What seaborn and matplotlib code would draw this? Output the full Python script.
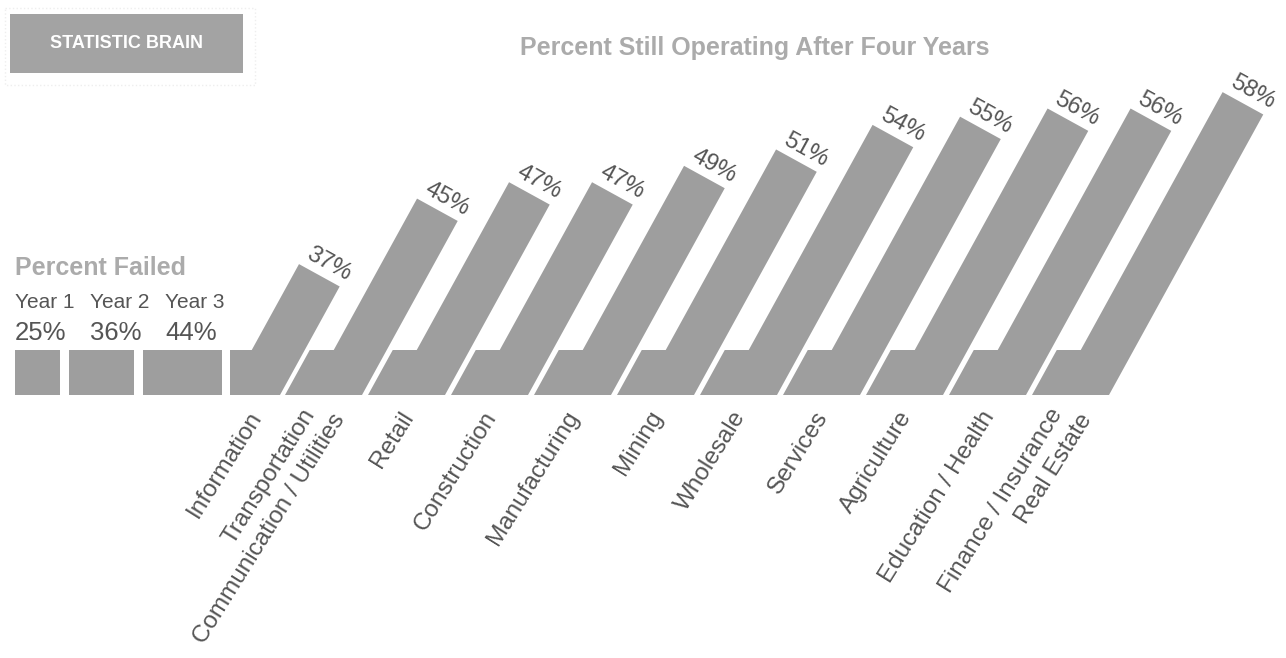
import numpy as np
import matplotlib
matplotlib.use("Agg")
import matplotlib.pyplot as plt
from matplotlib.patches import Polygon, Rectangle
import seaborn as sns

# ---------------- data ----------------
brand = "STATISTIC BRAIN"
title_main = "Percent Still Operating After Four Years"
title_failed = "Percent Failed"
year_labels = ["Year 1", "Year 2", "Year 3"]
year_failed = [25, 36, 44]
industries = ["Information", "Transportation\nCommunication / Utilities", "Retail",
              "Construction", "Manufacturing", "Mining", "Wholesale", "Services",
              "Agriculture", "Education / Health", "Finance / Insurance\nReal Estate"]
still_operating = [37, 45, 47, 47, 49, 51, 54, 55, 56, 56, 58]

# ---------------- style ----------------
sns.set_theme(style="white")
plt.rcParams['font.family'] = ['Liberation Sans', 'DejaVu Sans']

GRAY = '#9e9e9e'
LIGHT = '#ababab'
DARK = '#555555'

W, H = 1286, 658
fig = plt.figure(figsize=(W / 100, H / 100), dpi=100)
ax = fig.add_axes([0, 0, 1, 1])
ax.set_xlim(0, W)
ax.set_ylim(H, 0)
ax.axis('off')

# layout (pixel-like units of the axes)
BASE_Y = 395.0       # baseline
BAND = 45.0          # height of the base band
SL = 0.55            # horizontal run per unit rise of slanted bars
HW = 53.0            # horizontal width of slanted bars
V0 = 23.75           # value at baseline of the height scale
PX_PER_PCT = 8.19    # height scale

d = np.array([SL, -1.0]); d /= np.linalg.norm(d)   # up along the bar
n = np.array([1.0, SL]); n /= np.linalg.norm(n)    # across the bar top
PW = HW / np.sqrt(1 + SL ** 2)                       # perpendicular width

# ---- brand box ----
ax.add_patch(Rectangle((5, 8), 250, 77, fill=False, ec='#eeeeee', lw=1, ls=':'))
ax.add_patch(Rectangle((10, 14), 233, 59, color='#a3a3a3', lw=0))
ax.text(126.5, 44, brand, color='white', fontsize=13, fontweight='bold',
        ha='center', va='center', family=['Liberation Sans Narrow', 'Liberation Sans'])

# ---- titles ----
ax.text(755, 48, title_main, color=LIGHT, fontsize=18, fontweight='bold',
        ha='center', va='center')
ax.text(15, 268, title_failed, color=LIGHT, fontsize=18, fontweight='bold',
        ha='left', va='center')

# ---- year boxes (widths proportional to value) ----
year_w = np.array(year_failed) * 1.8
gap = 9.0
lefts = 15 + np.concatenate([[0], np.cumsum(year_w[:-1] + gap)])
ax.bar(lefts, BAND, width=year_w, bottom=BASE_Y - BAND, align='edge',
       color=GRAY, linewidth=0)
for k, (lab, val) in enumerate(zip(year_labels, year_failed)):
    x = 15 + k * 75
    ax.text(x, 302, lab, color=DARK, fontsize=15, ha='left', va='center')
    ax.text(x, 333, f"{val}%", color=DARK, fontsize=18.5, ha='left', va='center')

# ---- industry bent bars ----
x_start = lefts[-1] + year_w[-1] + 8
step = 83.0
for i, (name, val) in enumerate(zip(industries, still_operating)):
    if i == 0:
        L, R = x_start, 280.0
    else:
        L = 285.0 + (i - 1) * step
        R = L + 77.0
    h = (val - V0) * PX_PER_PCT
    B = (L, BASE_Y)
    BR = (R, BASE_Y)
    TR = np.array([R + SL * h, BASE_Y - h])
    TL = TR - PW * n
    K = (R - HW + SL * BAND, BASE_Y - BAND)
    A = (L, BASE_Y - BAND) if i == 0 else (L + SL * BAND, BASE_Y - BAND)
    ax.add_patch(Polygon([B, BR, tuple(TR), tuple(TL), K, A], closed=True,
                         color=GRAY, lw=0))
    # value label on the top edge
    M = (TL + TR) / 2 + 14 * d + 3 * n
    ang = -np.degrees(np.arctan2(n[1], n[0]))
    ax.text(M[0], M[1], f"{val}%", color=DARK, fontsize=17, rotation=ang,
            rotation_mode='anchor', ha='center', va='center')
    # category label(s)
    cx = (L + R) / 2 + 2
    cy = 413
    rot = 58
    u = np.array([np.cos(np.radians(rot)), -np.sin(np.radians(rot))])
    p = np.array([np.sin(np.radians(rot)), np.cos(np.radians(rot))])
    lines = name.split("\n")
    nl = len(lines)
    for k, line in enumerate(lines):
        off = (k - (nl - 1) / 2) * (28 * p + 12 * u)
        ax.text(cx + off[0], cy + off[1], line, color=DARK, fontsize=17.5,
                rotation=rot, rotation_mode='anchor', ha='right', va='center')

fig.savefig("out.png", dpi=100, facecolor='white')
